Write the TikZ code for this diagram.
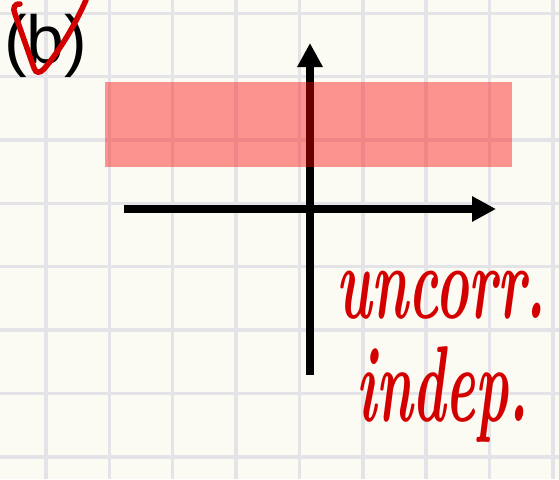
\documentclass[tikz,border=0pt]{standalone}
\usepackage{fontspec}
\usepackage{xcolor}
\usetikzlibrary{arrows.meta}
\newfontfamily\etiquetafont{Liberation Sans}

\begin{document}
\begin{tikzpicture}[x=1pt, y=-1pt]
                \def\ancho{559}
                \def\alto{479}
                \def\paso{63.35}
                \definecolor{papel}{RGB}{251,251,243}
                \definecolor{cuadricula}{RGB}{228,228,232}
                \definecolor{tinta}{RGB}{212,0,0}
                \colorlet{franja}{red}
                \useasboundingbox (0,0) rectangle (\ancho,\alto);
                \fill[papel] (0,0) rectangle (\ancho,\alto);
                % cuadricula del cuaderno
                \begin{scope}[cuadricula, line width=3.5pt]
                  \foreach \i in {0,...,9} {
                    \draw ({-17.35+\i*\paso},0) -- ({-17.35+\i*\paso},\alto);
                    \draw (0,{13.3+\i*\paso}) -- (\ancho,{13.3+\i*\paso});
                  }
                \end{scope}
                % ejes
                \coordinate (ejeIzq) at (124,209);
                \coordinate (ejeDer) at (496,209);
                \coordinate (ejeAbajo) at (310,375);
                \coordinate (ejeArriba) at (310,43);
                \begin{scope}[black, line width=8pt, -{Triangle[length=24pt, width=24pt]}]
                  \draw (ejeIzq) -- (ejeDer);
                  \draw (ejeAbajo) -- (ejeArriba);
                \end{scope}
                % franja
                \fill[franja, fill opacity=0.41] (105,82) rectangle (512,167);
                % textos
                \node[anchor=base west, inner sep=0pt, font=\etiquetafont\fontsize{68}{68}\selectfont] (etiqueta) at (4,63) {(b)};
                \draw[tinta, line width=5.5pt, line cap=round, line join=round]
                  (20,4) .. controls (15,3) and (12,8) .. (15,14) -- (34,68)
                  .. controls (36,74) and (40,73) .. (44,69)
                  .. controls (60,50) and (75,25) .. (86,0);
                \node[anchor=base west, inner sep=0pt, text=tinta, font=\bfseries\itshape\fontsize{105}{105}\selectfont] (incorr) at (336,318) {\scalebox{0.54}[1]{uncorr.}};
                \node[anchor=base west, inner sep=0pt, text=tinta, font=\bfseries\itshape\fontsize{108}{108}\selectfont] (indep) at (356,421) {\scalebox{0.52}[1]{indep.}};
              \end{tikzpicture}
\end{document}
